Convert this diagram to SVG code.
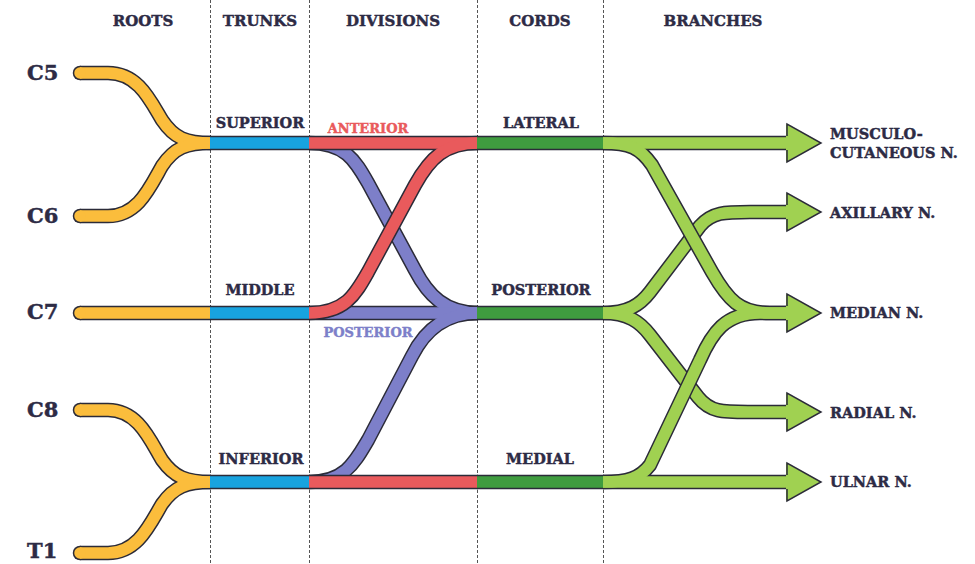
<svg xmlns="http://www.w3.org/2000/svg" width="975" height="564" viewBox="0 0 975 564">
<style>
text{font-family:"DejaVu Serif","Liberation Serif",serif;font-weight:bold;fill:#2d2b45;stroke:#2d2b45;stroke-width:0.45}
.hd{font-size:15px;text-anchor:middle}
.rt{font-size:21px}
.lb{font-size:14.5px;text-anchor:middle}
.br{font-size:14.5px}
.dv{font-size:13px;text-anchor:middle}
.dash{stroke:#555;stroke-width:1;stroke-dasharray:3 2;fill:none}
.o{fill:none;stroke:#2b2b38;stroke-width:14.5;stroke-linecap:butt;stroke-linejoin:round}
.f{fill:none;stroke-width:11.5;stroke-linecap:butt;stroke-linejoin:round}
.y{stroke:#fbbd3c}.b{stroke:#18a3df}.p{stroke:#7d7fc9}.r{stroke:#e95a5c}.g{stroke:#3f9c3f}.lg{stroke:#a0d151}
</style>
<defs>
<g id="ah">
<path d="M786,-19 L821,0 L786,19 Z" fill="#a0d151"/>
<path d="M787,-7 V-19 L821,0 L787,19 V7" fill="none" stroke="#2b2b38" stroke-width="1.5" stroke-linejoin="miter"/>
</g>
</defs>
<rect width="975" height="564" fill="#fff"/>
<g id="grid">
<line class="dash" x1="210.5" y1="0" x2="210.5" y2="564"/>
<line class="dash" x1="309.5" y1="0" x2="309.5" y2="564"/>
<line class="dash" x1="477.5" y1="0" x2="477.5" y2="564"/>
<line class="dash" x1="603.5" y1="0" x2="603.5" y2="564"/>
</g>
<g id="headers">
<text class="hd" x="143" y="26">ROOTS</text>
<text class="hd" x="260" y="26">TRUNKS</text>
<text class="hd" x="393" y="26">DIVISIONS</text>
<text class="hd" x="540" y="26">CORDS</text>
<text class="hd" x="713" y="26">BRANCHES</text>
</g>
<g id="connectors">
<g id="roots-lines">
<path class="o" d="M80,73 H108 C138,73 150,100 162,120 C174,138 186,143 211,143"/>
<path class="o" d="M80,216 H108 C138,216 150,187 162,166 C174,148 186,143 211,143"/>
<path class="o" d="M80,313 H211"/>
<path class="o" d="M80,410 H108 C138,410 150,440 162,460 C174,477 186,482 211,482"/>
<path class="o" d="M80,553 H108 C138,553 150,524 162,504 C174,487 186,482 211,482"/>
<circle cx="80" cy="73" r="7.25" fill="#2b2b38"/><circle cx="80" cy="216" r="7.25" fill="#2b2b38"/><circle cx="80" cy="313" r="7.25" fill="#2b2b38"/><circle cx="80" cy="410" r="7.25" fill="#2b2b38"/><circle cx="80" cy="553" r="7.25" fill="#2b2b38"/>
<path class="f y" d="M80,73 H108 C138,73 150,100 162,120 C174,138 186,143 211,143"/>
<path class="f y" d="M80,216 H108 C138,216 150,187 162,166 C174,148 186,143 211,143"/>
<path class="f y" d="M80,313 H211"/>
<path class="f y" d="M80,410 H108 C138,410 150,440 162,460 C174,477 186,482 211,482"/>
<path class="f y" d="M80,553 H108 C138,553 150,524 162,504 C174,487 186,482 211,482"/>
<circle cx="80" cy="73" r="5.75" fill="#fbbd3c"/><circle cx="80" cy="216" r="5.75" fill="#fbbd3c"/><circle cx="80" cy="313" r="5.75" fill="#fbbd3c"/><circle cx="80" cy="410" r="5.75" fill="#fbbd3c"/><circle cx="80" cy="553" r="5.75" fill="#fbbd3c"/>
</g>
<g id="trunk-lines">
<path class="o" d="M210,143 H310 M210,313 H310 M210,482 H310"/>
<path class="f b" d="M210,143 H310 M210,313 H310 M210,482 H310"/>
</g>
<g id="posterior-divisions">
<path class="o" d="M309,143 C345,143 355,160 368,183 L415,270 C428,295 445,313 478,313"/>
<path class="o" d="M309,313 H478"/>
<path class="o" d="M309,482 C345,482 355,462 368,440 L412,356 C425,330 445,313 478,313"/>
<path class="f p" d="M309,143 C345,143 355,160 368,183 L415,270 C428,295 445,313 478,313"/>
<path class="f p" d="M309,313 H478"/>
<path class="f p" d="M309,482 C345,482 355,462 368,440 L412,356 C425,330 445,313 478,313"/>
</g>
<g id="anterior-divisions">
<path class="o" d="M309,143 H478"/>
<path class="o" d="M309,482 H478"/>
<path class="o" d="M309,313 C345,313 355,295 368,272 L415,185 C430,158 445,143 478,143"/>
<path class="f r" d="M309,143 H478"/>
<path class="f r" d="M309,482 H478"/>
<path class="f r" d="M309,313 C345,313 355,295 368,272 L415,185 C430,158 445,143 478,143"/>
</g>
<g id="cord-lines">
<path class="o" d="M477,143 H604 M477,313 H604 M477,482 H604"/>
<path class="f g" d="M477,143 H604 M477,313 H604 M477,482 H604"/>
</g>
<g id="posterior-branches">
<path class="o" d="M603,313 C628,313 640,305 650,292 L700,226 C712,212 725,212 750,212 H790"/>
<path class="o" d="M603,313 C628,313 640,322 650,335 L698,397 C710,412 722,412 748,412 H790"/>
<path class="f lg" d="M603,313 C628,313 640,305 650,292 L700,226 C712,212 725,212 750,212 H790"/>
<path class="f lg" d="M603,313 C628,313 640,322 650,335 L698,397 C710,412 722,412 748,412 H790"/>
</g>
<g id="other-branches">
<path class="o" d="M603,143 H790"/>
<path class="o" d="M603,143 C630,143 640,148 652,165 L712,272 C728,300 740,313 770,313 H790"/>
<path class="o" d="M603,482 C628,482 640,478 650,465 L700,360 C712,333 725,313 760,313 H790"/>
<path class="o" d="M603,482 H790"/>
<path class="f lg" d="M603,143 H790"/>
<path class="f lg" d="M603,143 C630,143 640,148 652,165 L712,272 C728,300 740,313 770,313 H790"/>
<path class="f lg" d="M603,482 C628,482 640,478 650,465 L700,360 C712,333 725,313 760,313 H790"/>
<path class="f lg" d="M603,482 H790"/>
</g>
<use href="#ah" y="143"/>
<use href="#ah" y="212"/>
<use href="#ah" y="313"/>
<use href="#ah" y="412"/>
<use href="#ah" y="482"/>
</g>
<g id="root-C5"><text class="rt" x="27" y="80">C5</text></g>
<g id="root-C6"><text class="rt" x="27" y="223">C6</text></g>
<g id="root-C7"><text class="rt" x="27" y="319">C7</text></g>
<g id="root-C8"><text class="rt" x="27" y="417">C8</text></g>
<g id="root-T1"><text class="rt" x="27" y="558">T1</text></g>
<g id="trunk-superior"><text class="lb" x="260" y="128">SUPERIOR</text></g>
<g id="trunk-middle"><text class="lb" x="260" y="295">MIDDLE</text></g>
<g id="trunk-inferior"><text class="lb" x="261" y="464">INFERIOR</text></g>
<g id="div-anterior"><text class="dv" x="368" y="133" style="fill:#e95a5c;stroke:#e95a5c">ANTERIOR</text></g>
<g id="div-posterior"><text class="dv" x="368" y="337" style="fill:#7d7fc9;stroke:#7d7fc9">POSTERIOR</text></g>
<g id="cord-lateral"><text class="lb" x="541" y="128">LATERAL</text></g>
<g id="cord-posterior"><text class="lb" x="541" y="295">POSTERIOR</text></g>
<g id="cord-medial"><text class="lb" x="540" y="464">MEDIAL</text></g>
<g id="n-musculo"><text class="br" x="830" y="139">MUSCULO-</text><text class="br" x="830" y="158">CUTANEOUS N.</text></g>
<g id="n-axillary"><text class="br" x="830" y="218">AXILLARY N.</text></g>
<g id="n-median"><text class="br" x="830" y="318">MEDIAN N.</text></g>
<g id="n-radial"><text class="br" x="830" y="418">RADIAL N.</text></g>
<g id="n-ulnar"><text class="br" x="830" y="487">ULNAR N.</text></g>
</svg>
